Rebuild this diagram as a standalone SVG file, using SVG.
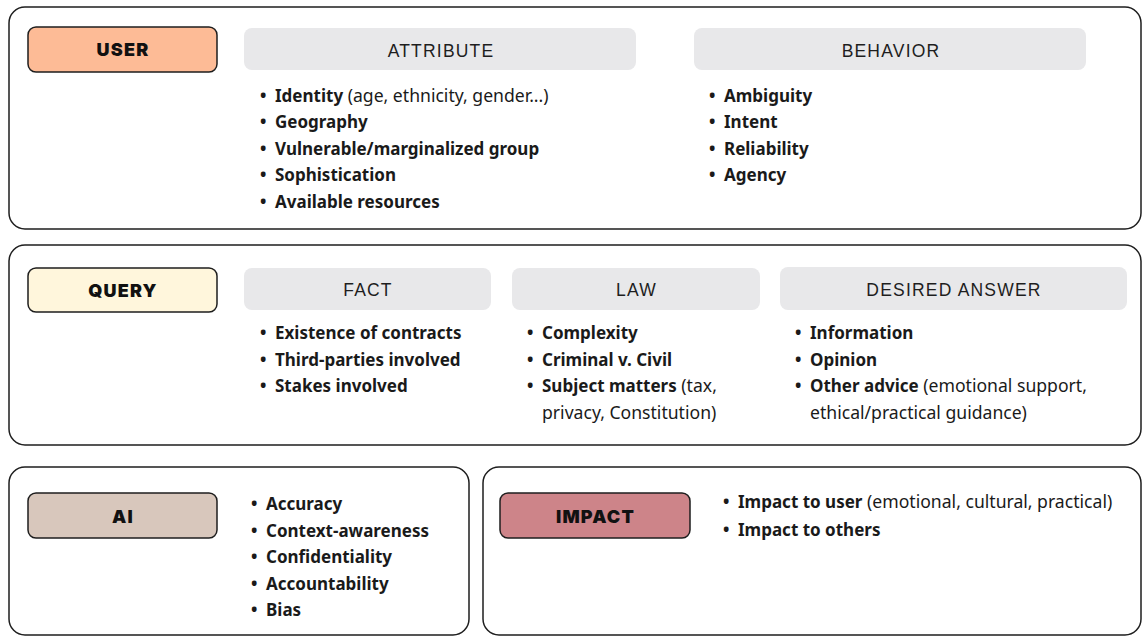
<svg xmlns="http://www.w3.org/2000/svg" width="1143" height="637" viewBox="0 0 1143 637">
  <style>
    .panel { fill: #ffffff; stroke: #1e1e1e; stroke-width: 1.5; }
    .tag { stroke: #1e1e1e; stroke-width: 1.5; }
    .head { fill: #e8e8ea; }
    .tagtxt { font-family: Inter, "Liberation Sans", sans-serif; font-weight: 900; font-size: 18px; letter-spacing: 1.2px; fill: #111; text-anchor: middle; }
    .headtxt { font-family: "Liberation Sans", Arial, sans-serif; font-size: 17.5px; letter-spacing: 1.2px; fill: #1e1e1e; text-anchor: middle; }
    .item { font-family: "Noto Sans", "Liberation Sans", sans-serif; font-size: 17px; font-weight: 700; fill: #1a1a1a; }
    .b { font-weight: 700; }
    .r { font-weight: 400; font-size: 17.6px; }
  </style>

  <!-- USER panel -->
  <g id="user">
    <rect class="panel" x="9" y="7" width="1132" height="222" rx="16"/>
    <rect class="tag" x="28" y="27" width="189" height="45" rx="8" fill="#fdbb96"/>
    <text class="tagtxt" x="123" y="56">USER</text>
    <rect class="head" x="244" y="28" width="392" height="42" rx="8"/>
    <text class="headtxt" x="441" y="56.5">ATTRIBUTE</text>
    <rect class="head" x="694" y="28" width="392" height="42" rx="8"/>
    <text class="headtxt" x="891" y="56.5">BEHAVIOR</text>
    <g class="item">
      <text x="260" y="101.5">•<tspan x="275" class="b">Identity</tspan><tspan class="r"> (age, ethnicity, gender...)</tspan></text>
      <text x="260" y="128">•<tspan x="275" class="b">Geography</tspan></text>
      <text x="260" y="154.5">•<tspan x="275" class="b">Vulnerable/marginalized group</tspan></text>
      <text x="260" y="181">•<tspan x="275" class="b">Sophistication</tspan></text>
      <text x="260" y="207.5">•<tspan x="275" class="b">Available resources</tspan></text>
      <text x="709" y="101.5">•<tspan x="724" class="b">Ambiguity</tspan></text>
      <text x="709" y="128">•<tspan x="724" class="b">Intent</tspan></text>
      <text x="709" y="154.5">•<tspan x="724" class="b">Reliability</tspan></text>
      <text x="709" y="181">•<tspan x="724" class="b">Agency</tspan></text>
    </g>
  </g>

  <!-- QUERY panel -->
  <g id="query">
    <rect class="panel" x="9" y="245" width="1132" height="200" rx="16"/>
    <rect class="tag" x="28" y="268" width="189" height="44" rx="8" fill="#fff6dc"/>
    <text class="tagtxt" x="123" y="296.5">QUERY</text>
    <rect class="head" x="244" y="268" width="247" height="42" rx="8"/>
    <text class="headtxt" x="368" y="296">FACT</text>
    <rect class="head" x="512" y="268" width="248" height="42" rx="8"/>
    <text class="headtxt" x="636.5" y="296">LAW</text>
    <rect class="head" x="780" y="267" width="347" height="43" rx="8"/>
    <text class="headtxt" x="954" y="296">DESIRED ANSWER</text>
    <g class="item">
      <text x="260" y="339">•<tspan x="275" class="b">Existence of contracts</tspan></text>
      <text x="260" y="365.5">•<tspan x="275" class="b">Third-parties involved</tspan></text>
      <text x="260" y="392">•<tspan x="275" class="b">Stakes involved</tspan></text>
      <text x="527" y="339">•<tspan x="542" class="b">Complexity</tspan></text>
      <text x="527" y="365.5">•<tspan x="542" class="b">Criminal v. Civil</tspan></text>
      <text x="527" y="392">•<tspan x="542" class="b">Subject matters</tspan><tspan class="r">  (tax,</tspan></text>
      <text x="542" y="418.5" class="r">privacy, Constitution)</text>
      <text x="795" y="339">•<tspan x="810" class="b">Information</tspan></text>
      <text x="795" y="365.5">•<tspan x="810" class="b">Opinion</tspan></text>
      <text x="795" y="392">•<tspan x="810" class="b">Other advice</tspan><tspan class="r"> (emotional support,</tspan></text>
      <text x="810" y="418.5" class="r">ethical/practical guidance)</text>
    </g>
  </g>

  <!-- AI panel -->
  <g id="ai">
    <rect class="panel" x="9" y="467" width="460" height="168" rx="16"/>
    <rect class="tag" x="28" y="493" width="189" height="45" rx="8" fill="#d8c7bc"/>
    <text class="tagtxt" x="123" y="523">AI</text>
    <g class="item">
      <text x="251" y="510">•<tspan x="266" class="b">Accuracy</tspan></text>
      <text x="251" y="536.5">•<tspan x="266" class="b">Context-awareness</tspan></text>
      <text x="251" y="563">•<tspan x="266" class="b">Confidentiality</tspan></text>
      <text x="251" y="589.5">•<tspan x="266" class="b">Accountability</tspan></text>
      <text x="251" y="616">•<tspan x="266" class="b">Bias</tspan></text>
    </g>
  </g>

  <!-- IMPACT panel -->
  <g id="impact">
    <rect class="panel" x="483" y="467" width="658" height="168" rx="16"/>
    <rect class="tag" x="500" y="493" width="190" height="45" rx="8" fill="#cd8489"/>
    <text class="tagtxt" x="595.5" y="523">IMPACT</text>
    <g class="item">
      <text x="723" y="508">•<tspan x="738" class="b">Impact to user</tspan><tspan class="r"> (emotional, cultural, practical)</tspan></text>
      <text x="723" y="536">•<tspan x="738" class="b">Impact to others</tspan></text>
    </g>
  </g>

  <!-- no connectors in this figure -->
  <g id="connectors"/>
</svg>
